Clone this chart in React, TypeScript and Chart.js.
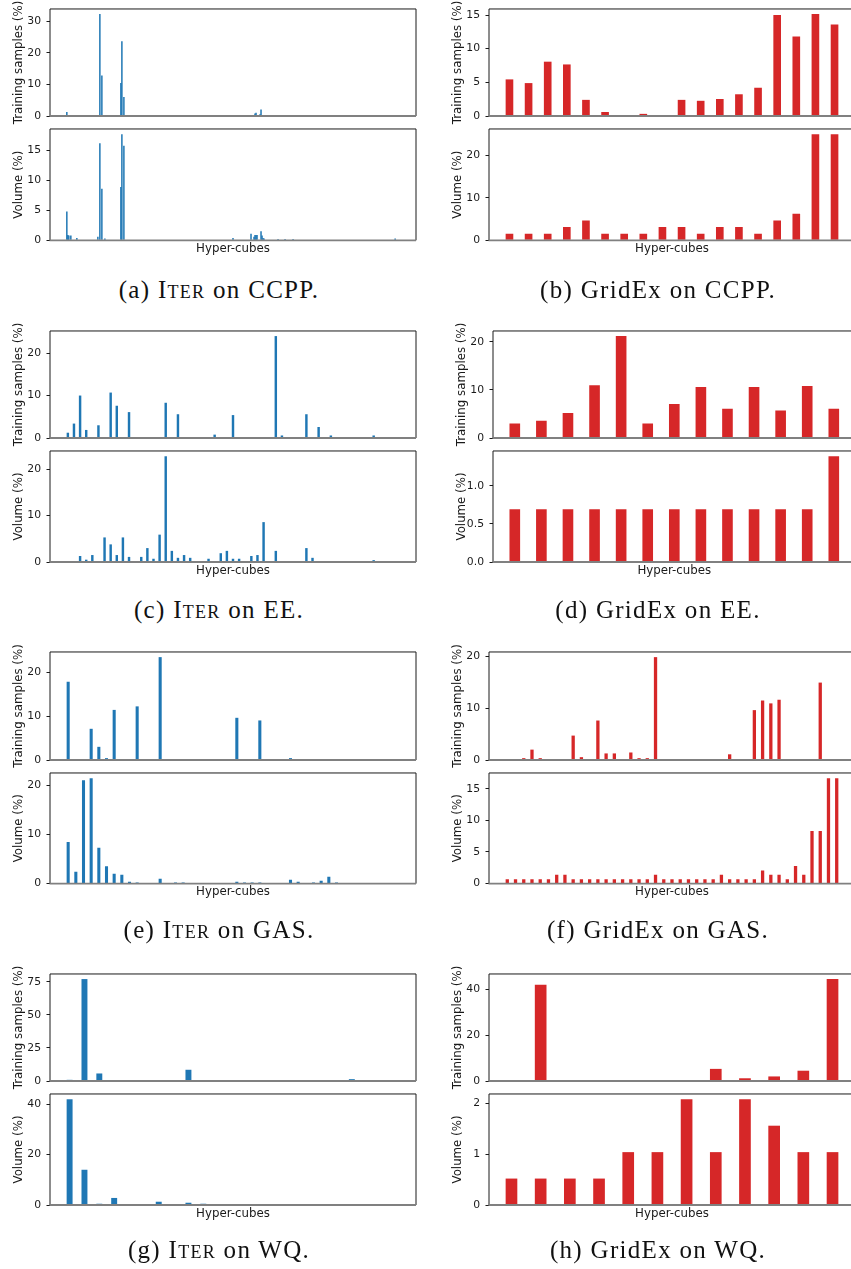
import React, { useEffect, useRef } from "react";
import { Chart, registerables } from "chart.js";

Chart.register(...registerables);

const BLUE = "#1f77b4";
const RED = "#d62728";
const TRAIN_TITLE = "Training samples (%)";
const VOLUME_TITLE = "Volume (%)";
const X_TITLE = "Hyper-cubes";

// ---------- (a) ITER on CCPP (sparse: hyper-cube index -> value) ----------
const aCount = 333;
const aTrainIdx = [0, 33, 35, 54, 55, 57, 188, 189, 193, 194];
const aTrain = [1.3, 32.3, 12.8, 10.5, 23.7, 6.0, 0.8, 1.0, 0.6, 2.1];
const aVolIdx = [0, 1, 2, 4, 10, 31, 33, 35, 38, 54, 55, 57, 166, 184, 187, 188, 189, 190, 194, 195, 196, 197, 211, 218, 226, 328];
const aVol = [4.8, 0.9, 0.8, 0.8, 0.4, 0.6, 16.2, 8.6, 0.3, 8.9, 17.7, 15.8, 0.4, 1.1, 0.6, 0.9, 0.9, 0.9, 1.5, 0.8, 0.4, 0.3, 0.2, 0.2, 0.2, 0.3];
const aTrainTicks = [0, 10, 20, 30];
const aVolTicks = [0, 5, 10, 15];

// ---------- (b) GridEx on CCPP ----------
const bTrain = [5.44, 4.89, 8.07, 7.66, 2.4, 0.6, 0.05, 0.32, 0.05, 2.4, 2.26, 2.53, 3.23, 4.2, 15.0, 11.81, 15.14, 13.6];
const bVol = [1.5625, 1.5625, 1.5625, 3.125, 4.6875, 1.5625, 1.5625, 1.5625, 3.125, 3.125, 1.5625, 3.125, 3.125, 1.5625, 4.6875, 6.25, 25, 25];
const bTrainTicks = [0, 5, 10, 15];
const bVolTicks = [0, 10, 20];

// ---------- (c) ITER on EE ----------
const cTrain = [
  1.25, 3.4, 10.0, 1.9, 0.1, 3.0, 0.1, 10.7, 7.6, 0.1, 6.1,
  0.1, 0.1, 0.1, 0.1, 0.1,
  8.3, 0.1, 5.6,
  0.1, 0.1, 0.1, 0.1, 0.1,
  0.8, 0.1, 0.1, 5.4,
  0.1, 0.1, 0.1, 0.1, 0.1, 0.1,
  24.0, 0.6,
  0.1, 0.1, 0.1,
  5.6, 0.1, 2.6, 0.1, 0.6,
  0.1, 0.1, 0.1, 0.1, 0.1, 0.1,
  0.6,
  0.1, 0.1, 0.1, 0.1,
];
const cVol = [
  0.15, 0.15, 1.3, 0.5, 1.5, 0.15, 5.3, 3.8, 1.5, 5.3, 1.1,
  0.2, 1.1, 3.0, 0.7, 5.9, 22.8, 2.4, 0.9, 1.5, 0.9,
  0.2, 0.2, 0.7, 0.1, 1.9, 2.4, 0.7, 0.7, 0.2, 1.3,
  1.5, 8.6, 0.2, 2.4, 0.2, 0.05, 0.05, 0.05, 3.0, 0.9,
  0.2, 0.05, 0.2, 0.05, 0.05, 0.05, 0.05, 0.05, 0.05,
  0.4, 0.2, 0.2, 0.05, 0.05,
];
const cTrainTicks = [0, 10, 20];
const cVolTicks = [0, 10, 20];

// ---------- (d) GridEx on EE ----------
const dTrain = [3.0, 3.6, 5.2, 11.0, 21.2, 3.0, 7.1, 10.6, 6.1, 10.6, 5.7, 10.8, 6.1];
const dVol = [0.6944, 0.6944, 0.6944, 0.6944, 0.6944, 0.6944, 0.6944, 0.6944, 0.6944, 0.6944, 0.6944, 0.6944, 1.3889];
const dTrainTicks = [0, 10, 20];
const dVolTicks = [0, 0.5, 1.0];
const dVolTickLabels = ["0.0", "0.5", "1.0"];

// ---------- (e) ITER on GAS ----------
const eTrain = [
  17.8, 0.1, 0.1, 7.1, 3.0, 0.43, 11.4, 0.1, 0.1, 12.2, 0.1, 0.1, 23.4,
  0.1, 0.1, 0.1, 0.1, 0.1, 0.1, 0.1, 0.1, 0.1,
  9.6, 0.1, 0.1, 9.0,
  0.1, 0.1, 0.1,
  0.43,
  0.1, 0.1, 0.1, 0.1, 0.1, 0.1, 0.1, 0.1, 0.1, 0.1, 0.1, 0.1, 0.1, 0.1,
];
const eVol = [
  8.5, 2.4, 21.1, 21.5, 7.3, 3.55, 2.0, 1.8, 0.4, 0.2, 0, 0, 1.0, 0, 0.2, 0.2,
  0, 0, 0, 0, 0, 0,
  0.4, 0.2, 0.2, 0.2,
  0, 0, 0,
  0.8, 0.4, 0, 0.2, 0.6, 1.4, 0.2,
  0, 0, 0, 0, 0, 0, 0, 0,
];
const eTrainTicks = [0, 10, 20];
const eVolTicks = [0, 10, 20];

// ---------- (f) GridEx on GAS ----------
const fTrain = [
  0.18, 0.18, 0.36, 2.0, 0.36, 0.05, 0.18, 0.18, 4.7, 0.55, 0.18, 7.6, 1.27, 1.27, 0.18, 1.45, 0.36, 0.36, 19.8,
  0.05, 0.05, 0.05, 0.05, 0.05, 0.05, 0.05, 0.05,
  1.1, 0.18, 0.05, 9.6, 11.45, 10.9, 11.6,
  0.05, 0.05, 0.05, 0.05,
  14.9, 0.05, 0.05,
];
const fVol = [
  0.694, 0.694, 0.694, 0.694, 0.694, 0.694, 1.389, 1.389,
  0.694, 0.694, 0.694, 0.694, 0.694, 0.694, 0.694, 0.694, 0.694, 0.694,
  1.389,
  0.694, 0.694, 0.694, 0.694, 0.694, 0.694, 0.694,
  1.389,
  0.694, 0.694, 0.694, 0.694,
  2.083, 1.389, 1.389, 0.694, 2.778, 1.389, 8.333, 8.333, 16.667, 16.667,
];
const fTrainTicks = [0, 10, 20];
const fVolTicks = [0, 5, 10, 15];

// ---------- (g) ITER on WQ ----------
const gTrain = [0.9, 77.0, 5.7, 0.3, 0.3, 0.3, 0.3, 0.3, 8.5, 0.3, 0.3, 0.3, 0.3, 0.3, 0.3, 0.3, 0.3, 0.3, 0.3, 1.4, 0.3, 0.3, 0.3];
const gVol = [42.0, 14.0, 0.5, 2.8, 0, 0, 1.3, 0, 0.9, 0.5, 0, 0, 0, 0, 0, 0, 0, 0, 0, 0, 0, 0, 0];
const gTrainTicks = [0, 25, 50, 75];
const gVolTicks = [0, 20, 40];

// ---------- (h) GridEx on WQ ----------
const hTrain = [0.1, 42.0, 0.1, 0.1, 0.1, 0.1, 0.4, 5.3, 1.2, 2.0, 4.5, 44.5];
const hVol = [0.5208, 0.5208, 0.5208, 0.5208, 1.0417, 1.0417, 2.0833, 1.0417, 2.0833, 1.5625, 1.0417, 1.0417];
const hTrainTicks = [0, 20, 40];
const hVolTicks = [0, 1, 2];

// ---------- captions ----------
const captionLetters = ["(a)", "(b)", "(c)", "(d)", "(e)", "(f)", "(g)", "(h)"];
const captionMethods = ["Iter", "GridEx", "Iter", "GridEx", "Iter", "GridEx", "Iter", "GridEx"];
const captionDatasets = ["CCPP", "CCPP", "EE", "EE", "GAS", "GAS", "WQ", "WQ"];

// ---------- layout (pixels) ----------
const ROW_TOP = [5.5, 327.2, 648.8, 970.2];
const AX_H = 114.5;
const LOWER_OFFSET = 120.3;
const Y_AXIS_W = 50;
const X_AXIS_H = 17;
const CAPTION_Y = [289, 609, 929, 1249];
const CAPTION_X = [219, 658];

const TICK_FONT = { family: "DejaVu Sans", size: 10.8 };
const LABEL_FONT = { family: "DejaVu Sans", size: 11.8 };
const TEXT_COLOR = "#1a1a1a";

type Spec = {
  key: string;
  row: number;
  lower: boolean;
  count: number;
  idx: number[] | null;
  values: number[];
  ticks: number[];
  tickLabels: string[];
  color: string;
  yTitle: string;
  barPct: number;
  axL: number;
  axW: number;
};

const fmt = (arr: number[]) => arr.map((v) => String(v));

function pair(
  key: string, row: number, color: string, axL: number, axW: number,
  count: number, barPct: number,
  train: number[], trainIdx: number[] | null, trainTicks: number[], trainLabels: string[],
  vol: number[], volIdx: number[] | null, volTicks: number[], volLabels: string[]
): Spec[] {
  return [
    { key: key + "t", row, lower: false, count, idx: trainIdx, values: train, ticks: trainTicks, tickLabels: trainLabels, color, yTitle: TRAIN_TITLE, barPct, axL, axW },
    { key: key + "v", row, lower: true, count, idx: volIdx, values: vol, ticks: volTicks, tickLabels: volLabels, color, yTitle: VOLUME_TITLE, barPct, axL, axW },
  ];
}

const SPECS: Spec[] = [
  ...pair("a", 0, BLUE, 50, 366, aCount, 1.5, aTrain, aTrainIdx, aTrainTicks, fmt(aTrainTicks), aVol, aVolIdx, aVolTicks, fmt(aVolTicks)),
  ...pair("b", 0, RED, 489, 366, bTrain.length, 0.4, bTrain, null, bTrainTicks, fmt(bTrainTicks), bVol, null, bVolTicks, fmt(bVolTicks)),
  ...pair("c", 1, BLUE, 50, 366, cTrain.length, 0.4, cTrain, null, cTrainTicks, fmt(cTrainTicks), cVol, null, cVolTicks, fmt(cVolTicks)),
  ...pair("d", 1, RED, 493, 362.6, dTrain.length, 0.4, dTrain, null, dTrainTicks, fmt(dTrainTicks), dVol, null, dVolTicks, dVolTickLabels),
  ...pair("e", 2, BLUE, 50, 366, eTrain.length, 0.4, eTrain, null, eTrainTicks, fmt(eTrainTicks), eVol, null, eVolTicks, fmt(eVolTicks)),
  ...pair("f", 2, RED, 489, 366, fTrain.length, 0.4, fTrain, null, fTrainTicks, fmt(fTrainTicks), fVol, null, fVolTicks, fmt(fVolTicks)),
  ...pair("g", 3, BLUE, 50, 366, gTrain.length, 0.4, gTrain, null, gTrainTicks, fmt(gTrainTicks), gVol, null, gVolTicks, fmt(gVolTicks)),
  ...pair("h", 3, RED, 489, 366, hTrain.length, 0.4, hTrain, null, hTrainTicks, fmt(hTrainTicks), hVol, null, hVolTicks, fmt(hVolTicks)),
];

function geometry(spec: Spec) {
  const axT = ROW_TOP[spec.row] + (spec.lower ? LOWER_OFFSET : 0);
  const top = Math.floor(axT) - 8;
  const padT = axT - top;
  const xh = spec.lower ? X_AXIS_H : 0;
  const height = Math.ceil(padT + AX_H + xh + 8);
  const padB = height - padT - AX_H - xh;
  const left = Math.round(spec.axL - Y_AXIS_W);
  const yw = spec.axL - left;
  const width = Math.ceil(yw + spec.axW + 6);
  const padR = width - yw - spec.axW;
  return { top, left, width, height, padT, padB, padR, yw, xh };
}

const framePlugin = {
  id: "frame",
  afterDatasetsDraw(chart: any) {
    const { ctx, chartArea } = chart;
    const { left, right, top, bottom } = chartArea;
    ctx.save();
    ctx.strokeStyle = "#1a1a1a";
    ctx.lineWidth = 1;
    ctx.beginPath();
    ctx.moveTo(left, bottom);
    ctx.lineTo(left, top);
    ctx.lineTo(right, top);
    ctx.lineTo(right, bottom);
    ctx.stroke();
    ctx.strokeStyle = "#808080";
    ctx.lineWidth = 1.8;
    ctx.beginPath();
    ctx.moveTo(left - 0.5, bottom);
    ctx.lineTo(right, bottom);
    ctx.stroke();
    ctx.restore();
  },
};

function BarPanel({ spec }: { spec: Spec }) {
  const ref = useRef<HTMLCanvasElement | null>(null);
  const g = geometry(spec);

  useEffect(() => {
    if (!ref.current) return;
    const points = spec.values.map((v, i) => ({ x: spec.idx ? spec.idx[i] : i, y: v }));
    const ymax = 1.05 * Math.max(...spec.values);
    const n = spec.count;
    const xmin = -0.2 - 0.05 * (n - 0.6);
    const xmax = n - 0.8 + 0.05 * (n - 0.6);
    const chart = new Chart(ref.current, {
      type: "bar",
      data: {
        datasets: [
          {
            data: points as any,
            backgroundColor: spec.color,
            borderWidth: 0,
            barPercentage: spec.barPct,
            categoryPercentage: 1,
            inflateAmount: 0,
          } as any,
        ],
      },
      options: {
        animation: false,
        responsive: false,
        maintainAspectRatio: false,
        devicePixelRatio: 1,
        events: [],
        layout: { padding: { left: 0, right: g.padR, top: g.padT, bottom: g.padB } },
        plugins: { legend: { display: false }, tooltip: { enabled: false }, title: { display: false } },
        scales: {
          x: {
            type: "linear",
            min: xmin,
            max: xmax,
            offset: false,
            bounds: "data",
            grid: { display: false, offset: false },
            border: { display: false },
            ticks: { display: false },
            afterBuildTicks: (s: any) => {
              s.ticks = [{ value: 0 }];
            },
            title: {
              display: spec.lower,
              text: X_TITLE,
              font: LABEL_FONT,
              color: TEXT_COLOR,
              padding: { top: 0, bottom: 1.4 },
            },
            afterFit: (s: any) => {
              s.height = g.xh;
            },
          } as any,
          y: {
            type: "linear",
            min: 0,
            max: ymax,
            bounds: "data",
            position: "left",
            afterBuildTicks: (s: any) => {
              s.ticks = spec.ticks.map((v) => ({ value: v }));
            },
            ticks: {
              font: TICK_FONT,
              color: TEXT_COLOR,
              padding: 5.5,
              callback: (v: any) => {
                const i = spec.ticks.indexOf(Number(v));
                return i >= 0 ? spec.tickLabels[i] : String(v);
              },
            },
            grid: { display: true, drawOnChartArea: false, drawTicks: true, tickLength: 3.5, color: "#000000", lineWidth: 0.9 },
            border: { display: false },
            title: {
              display: true,
              text: spec.yTitle,
              font: LABEL_FONT,
              color: TEXT_COLOR,
              padding: { top: 11.8, bottom: 0 },
            },
            afterFit: (s: any) => {
              s.width = g.yw;
            },
          } as any,
        },
      },
      plugins: [framePlugin],
    });
    return () => chart.destroy();
  }, []);

  return (
    <canvas
      ref={ref}
      width={g.width}
      height={g.height}
      style={{ position: "absolute", left: g.left, top: g.top, width: g.width, height: g.height }}
    />
  );
}

function Caption({ i }: { i: number }) {
  const row = Math.floor(i / 2);
  const col = i % 2;
  return (
    <div
      style={{
        position: "absolute",
        left: CAPTION_X[col],
        top: CAPTION_Y[row],
        transform: "translate(-50%, -50%)",
        whiteSpace: "nowrap",
        fontFamily: "'Liberation Serif', serif",
        fontSize: 25,
        letterSpacing: 1.3,
        color: "#111",
        lineHeight: 1,
      }}
    >
      {captionLetters[i]}{" "}
      {captionMethods[i] === "Iter" ? (
        <span style={{ fontVariant: "small-caps" }}>{captionMethods[i]}</span>
      ) : (
        captionMethods[i]
      )}{" "}
      on {captionDatasets[i]}.
    </div>
  );
}

export default function App() {
  return (
    <div
      style={{
        position: "absolute",
        left: 0,
        top: 0,
        width: 851,
        height: 1269,
        overflow: "hidden",
        background: "#ffffff",
      }}
    >
      {SPECS.map((s) => (
        <BarPanel key={s.key} spec={s} />
      ))}
      {captionLetters.map((_, i) => (
        <Caption key={i} i={i} />
      ))}
    </div>
  );
}
